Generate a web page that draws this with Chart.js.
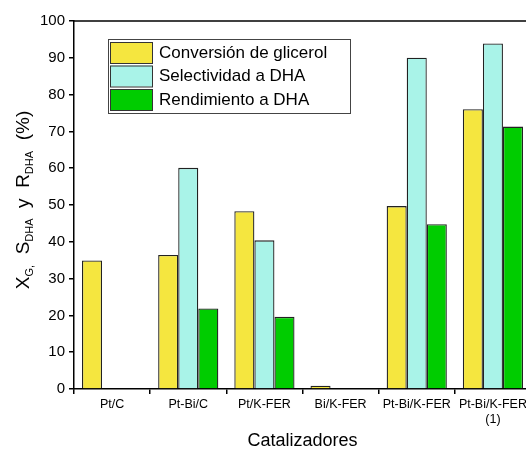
<!DOCTYPE html>
<html>
<head>
<meta charset="utf-8">
<script src="https://cdn.jsdelivr.net/npm/chart.js@4/dist/chart.umd.min.js"></script>
<style>
  html, body { margin: 0; padding: 0; background: #fff; overflow: hidden; }
  #wrap { width: 531px; height: 452px; }
</style>
</head>
<body>
<div id="wrap"><canvas id="catChart" width="531" height="452"></canvas></div>
<script>
// categories and series (%)
const categories = ['Pt/C', 'Pt-Bi/C', 'Pt/K-FER', 'Bi/K-FER', 'Pt-Bi/K-FER', ['Pt-Bi/K-FER', '(1)']];
const conversion = [34.9, 36.4, 48.3, 0.9, 49.7, 76.0];
const selectividad = [0, 60.1, 40.4, 0, 90.0, 93.9];
const rendimiento = [0, 21.9, 19.6, 0, 44.8, 71.3];
const yTicks = [0, 10, 20, 30, 40, 50, 60, 70, 80, 90, 100];

const FONT = '"Liberation Sans", Arial, sans-serif';

// top frame line + y title with subscripts + legend box inside plot
const extras = {
    id: 'extras',
    afterDraw(chart) {
        const ctx = chart.ctx;
        const a = chart.chartArea;
        ctx.save();
        ctx.strokeStyle = '#000';
        ctx.lineWidth = 1.5;
        ctx.beginPath();
        ctx.moveTo(a.left, a.top);
        ctx.lineTo(a.right, a.top);
        ctx.stroke();

        // y axis title, rotated
        const parts = [
            ['X', 0], ['G,', 1], ['  S', 0], ['DHA', 1], ['  y  R', 0], ['DHA', 1], ['  (%)', 0]
        ];
        const big = '19px ' + FONT, small = '11px ' + FONT;
        let total = 0;
        parts.forEach(p => { ctx.font = p[1] ? small : big; total += ctx.measureText(p[0]).width; });
        ctx.translate(29, 200);
        ctx.rotate(-Math.PI / 2);
        ctx.fillStyle = '#000';
        ctx.textBaseline = 'alphabetic';
        let x = -total / 2;
        parts.forEach(p => {
            ctx.font = p[1] ? small : big;
            ctx.fillText(p[0], x, p[1] ? 4 : 0);
            x += ctx.measureText(p[0]).width;
        });
        ctx.restore();

        // legend
        ctx.save();
        ctx.fillStyle = '#fff';
        ctx.fillRect(108, 39, 242, 74);
        ctx.strokeStyle = '#444';
        ctx.lineWidth = 1;
        ctx.strokeRect(108.5, 39.5, 242, 74);
        chart.data.datasets.forEach((ds, i) => {
            const y = 42 + i * 23.5;
            ctx.fillStyle = ds.backgroundColor;
            ctx.fillRect(110, y, 42, 21);
            ctx.strokeStyle = '#333';
            ctx.strokeRect(110.5, y + 0.5, 42, 21);
            ctx.fillStyle = '#000';
            ctx.font = '17px ' + FONT;
            ctx.textBaseline = 'middle';
            ctx.fillText(ds.label, 159, y + 11);
        });
        ctx.restore();
    }
};

new Chart(document.getElementById('catChart'), {
    type: 'bar',
    data: {
        labels: categories,
        datasets: [
            { label: 'Conversión de glicerol', data: conversion, backgroundColor: '#F5E63F' },
            { label: 'Selectividad a DHA', data: selectividad, backgroundColor: '#A9F3E8' },
            { label: 'Rendimiento a DHA', data: rendimiento, backgroundColor: '#00CC00' }
        ]
    },
    options: {
        responsive: false,
        animation: false,
        layout: { padding: { top: 21, left: 0, right: 0, bottom: 0 } },
        datasets: {
            bar: {
                borderColor: '#222',
                borderWidth: 1.3,
                borderSkipped: 'start',
                categoryPercentage: 0.79,
                barPercentage: 1.0
            }
        },
        plugins: {
            legend: { display: false },
            tooltip: { enabled: false }
        },
        scales: {
            x: {
                grid: { display: true, drawOnChartArea: false, drawTicks: true, tickLength: 5, color: '#000', lineWidth: 1.5 },
                border: { display: true, color: '#000', width: 1.5 },
                ticks: { color: '#000', font: { family: FONT, size: 12.5 }, padding: 3, maxRotation: 0, autoSkip: false },
                title: { display: true, text: 'Catalizadores', color: '#000', font: { family: FONT, size: 18 }, padding: { top: 12, bottom: 0 } },
                afterFit(scale) { scale.height = 63; }
            },
            y: {
                min: 0,
                max: 100,
                afterBuildTicks(scale) { scale.ticks = yTicks.map(v => ({ value: v })); },
                grid: { display: true, drawOnChartArea: false, drawTicks: true, tickLength: 5, color: '#000', lineWidth: 1.5 },
                border: { display: true, color: '#000', width: 1.5 },
                ticks: { color: '#000', font: { family: FONT, size: 15 }, padding: 4 },
                afterFit(scale) { scale.width = 74; }
            }
        }
    },
    plugins: [extras]
});
</script>
</body>
</html>
